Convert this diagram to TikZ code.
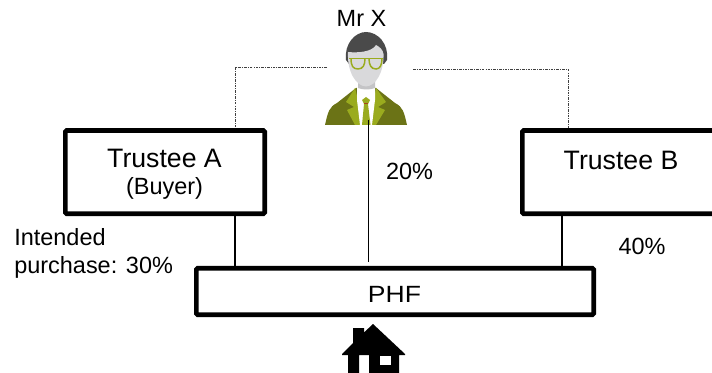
\documentclass[tikz,border=0pt]{standalone}
\usepackage{fontspec}
\setmainfont{Liberation Sans}
\definecolor{olivedark}{HTML}{6B7316}
\definecolor{olivelight}{HTML}{9AAB1E}
\definecolor{hairdark}{HTML}{4A4A4A}
\definecolor{skingrey}{HTML}{D9D9DB}
\definecolor{neckgrey}{HTML}{C4C4C6}
\definecolor{tiered}{HTML}{A8421A}
\tikzset{
  boxnode/.style={draw=black,line width=3.5pt,rounded corners=1pt,inner sep=0pt,align=center,fill=white},
  label/.style={inner sep=0pt,align=left,font=\fontsize{17.6}{20}\selectfont},
  tie/.style={draw=black,line width=0.8pt},
  thintie/.style={draw=black,line width=0.55pt},
  dotline/.style={draw=black!75,line width=0.6pt,dash pattern=on 2pt off 0.8pt on 0.7pt off 0.8pt}
}
\begin{document}
\begin{tikzpicture}[x=0.75pt,y=-0.75pt]
\useasboundingbox (0,0) rectangle (712,373);
\coordinate (ax) at (235,240);
\coordinate (bx) at (562,240);
\coordinate (m1) at (368,120);
\coordinate (m2) at (368,262);
\coordinate (dl1) at (327,67.7);
\coordinate (dl2) at (235,67.7);
\coordinate (dr1) at (413,69);
\coordinate (dr2) at (568,69);
% person
\fill[olivedark] (325,125) .. controls (328,112) and (329,107) .. (337,103) -- (356,88) -- (376,88) -- (395,103) .. controls (403,107) and (404,112) .. (407,125) -- cycle;
\fill[olivelight] (355,88) -- (346,102) -- (354,107) -- (347,110) -- (355,125) -- (361,125) -- (358,100) -- cycle;
\fill[olivelight] (376,88) -- (386,102) -- (378,107) -- (385,110) -- (376,125) -- (371,125) -- (374,100) -- cycle;
\fill[white] (357,85) -- (375,85) -- (375,100) -- (372,125) -- (360,125) -- (357,100) -- cycle;
\fill[olivelight] (366,97) -- (370,100) -- (368,104) -- (370.5,125) -- (362,125) -- (364,104) -- (362,100) -- cycle;
\fill[tiered] (364,103) rectangle (368,104);
\fill[neckgrey] (358,76) -- (375,76) -- (375,88) .. controls (370,90) and (363,90) .. (358,88) -- cycle;
\fill[hairdark] (346,60) .. controls (344,44) and (355,32) .. (366,32) .. controls (378,32) and (389,44) .. (387,60) -- (384,64) -- (349,64) -- cycle;
\fill[skingrey] (348,52) .. controls (358,53) and (372,52) .. (376,45) .. controls (380,47) and (383,50) .. (383.5,54) .. controls (384,72) and (376,86) .. (366,86.5) .. controls (356,86) and (347,72) .. (348,52) -- cycle;
\draw[olivelight,line width=1.1pt] (349,58.5) -- (383,58.5);
\draw[olivelight,line width=1.1pt] (351,58.5) .. controls (351,66) and (353,69) .. (358,69) .. controls (363,69) and (365,65) .. (365,58.5);
\draw[olivelight,line width=1.1pt] (369,58.5) .. controls (369,65) and (371,69) .. (376,69) .. controls (380,69) and (382,65) .. (382,58.5);
% house
\fill[black] (373,324) -- (364,332.5) -- (364,328) -- (353,328) -- (353,343) -- (342,354) -- (342,355) -- (348,355) -- (348,373) -- (359,373) -- (359,355) -- (369,355) -- (369,373) -- (399,373) -- (399,355) -- (405,355) -- (405,354) -- cycle;
\fill[white] (380,356) rectangle (391,365);
% boxes and texts
\node[boxnode,minimum width=149.5pt,minimum height=62.4pt] (A) at (165,172.1) {};
\node[label,font=\fontsize{20}{22}\selectfont] (Atext) at (164.5,158) {Trustee A};
\node[label] (Abuyer) at (164.5,188) {(Buyer)};
\node[boxnode,minimum width=149.5pt,minimum height=62.4pt] (B) at (622,172.1) {};
\node[label,font=\fontsize{20}{22}\selectfont] (Btext) at (621,160) {Trustee B};
\node[boxnode,minimum width=298pt,minimum height=34.8pt] (P) at (395,291.5) {};
\node[label,xscale=1.13] (Ptext) at (394.5,294) {PHF};
\node[label] (mrx) at (361.5,18) {Mr X};
\node[label] (p20) at (409.5,171) {20\%};
\node[label] (p40) at (642,246) {40\%};
\node[label,anchor=west] (intended) at (14,253.5) {Intended\\[0.6pt]purchase: 30\%};
% connectors
\draw[tie] (A.south -| ax) -- (P.north -| ax);
\draw[tie] (B.south -| bx) -- (P.north -| bx);
\draw[thintie] (m1) -- (m2);
\draw[dotline] (dl1) -- (dl2) -- (A.north -| dl2);
\draw[dotline] (dr1) -- (dr2) -- (B.north -| dr2);
\end{tikzpicture}
\end{document}
